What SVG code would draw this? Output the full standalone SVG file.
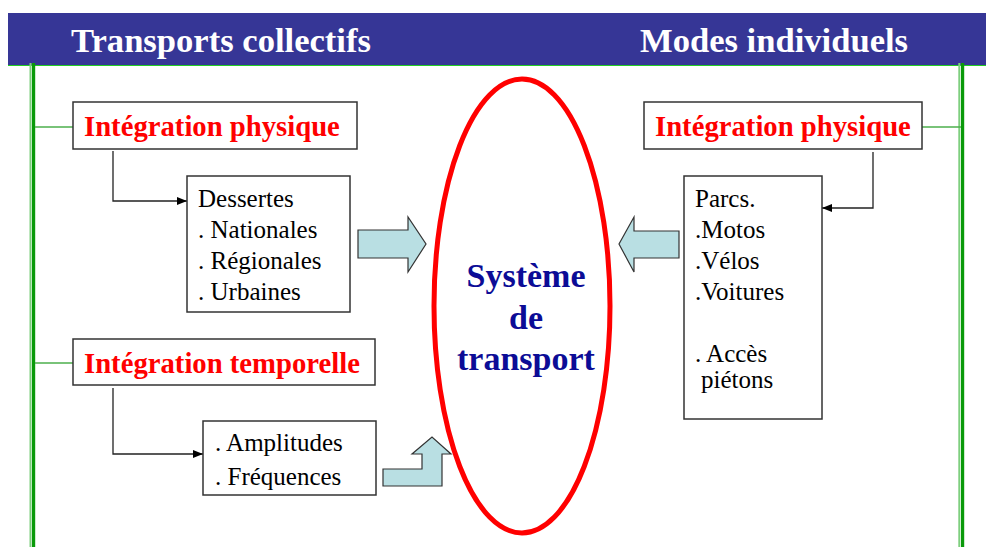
<svg xmlns="http://www.w3.org/2000/svg" width="986" height="547" viewBox="0 0 986 547">
<defs>
<style>
.hdr{font-family:"Liberation Serif","Times New Roman",serif;font-weight:bold;font-size:34.6px;fill:#ffffff}
.red{font-family:"Liberation Serif","Times New Roman",serif;font-weight:bold;font-size:28.7px;fill:#ff0000}
.txt{font-family:"Liberation Serif","Times New Roman",serif;font-size:25px;fill:#000000}
.ctr{font-family:"Liberation Serif","Times New Roman",serif;font-weight:bold;font-size:34px;fill:#0c0c96;text-anchor:middle}
.box{fill:#ffffff;stroke:#333333;stroke-width:1.5}
.blue{fill:#b9dfe3;stroke:#333333;stroke-width:1.2}
.gline{stroke:#4caf4c;stroke-width:1.5;fill:none}
.conn{stroke:#222222;stroke-width:1.3;fill:none}
</style>
<marker id="ah" viewBox="0 0 10 10" refX="10" refY="5" markerWidth="10" markerHeight="10" markerUnits="userSpaceOnUse" orient="auto">
<path d="M0,1 L10,5 L0,9 Z" fill="#000"/>
</marker>
</defs>
<rect width="986" height="547" fill="#ffffff"/>
<g id="banner">
<rect x="8" y="13" width="978" height="52" fill="#363696"/>
<line x1="8" y1="65.5" x2="986" y2="65.5" stroke="#22cc22" stroke-width="1.2"/>
<text class="hdr" x="71" y="52">Transports collectifs</text>
<text class="hdr" x="640" y="52">Modes individuels</text>
</g>
<g id="bars">
<rect x="29.5" y="63" width="2" height="484" fill="#7fcf7f"/>
<rect x="32" y="63" width="3.2" height="484" fill="#0a9a0a"/>
<rect x="958.3" y="63" width="2" height="484" fill="#7fcf7f"/>
<rect x="961" y="63" width="3.2" height="484" fill="#0a9a0a"/>
</g>
<g id="connectors">
<line class="gline" x1="35" y1="127" x2="73" y2="127"/>
<line class="gline" x1="35" y1="363" x2="73" y2="363"/>
<line class="gline" x1="922" y1="127" x2="961" y2="127"/>
<path class="conn" d="M113,151 V201 H187" marker-end="url(#ah)"/>
<path class="conn" d="M113,388 V454 H203" marker-end="url(#ah)"/>
<path class="conn" d="M873,152 V208 H822" stroke="#555555" marker-end="url(#ah)"/>
</g>
<g id="phys-left">
<rect class="box" x="73" y="102" width="284" height="47"/>
<text class="red" x="84" y="136">Intégration physique</text>
</g>
<g id="temp-left">
<rect class="box" x="73" y="339" width="302" height="46"/>
<text class="red" x="84" y="373">Intégration temporelle</text>
</g>
<g id="dessertes">
<rect class="box" x="187" y="176" width="163" height="136"/>
<text class="txt" x="198" y="207">Dessertes</text>
<text class="txt" x="198" y="238">. Nationales</text>
<text class="txt" x="198" y="269">. Régionales</text>
<text class="txt" x="198" y="300">. Urbaines</text>
</g>
<g id="amplitudes">
<rect class="box" x="203" y="421" width="173" height="74"/>
<text class="txt" x="215" y="451">. Amplitudes</text>
<text class="txt" x="215" y="485">. Fréquences</text>
</g>
<g id="phys-right">
<rect class="box" x="644" y="102" width="278" height="47"/>
<text class="red" x="655" y="136">Intégration physique</text>
</g>
<g id="parcs">
<rect class="box" x="684" y="176" width="138" height="243"/>
<text class="txt" x="695" y="207">Parcs.</text>
<text class="txt" x="695" y="238">.Motos</text>
<text class="txt" x="695" y="269">.Vélos</text>
<text class="txt" x="695" y="300">.Voitures</text>
<text class="txt" x="695" y="362">. Accès</text>
<text class="txt" x="701" y="388">piétons</text>
</g>
<g id="arrows">
<polygon class="blue" points="358,230 408,230 408,217 426,244 408,272 408,258 358,258"/>
<polygon class="blue" points="679,231 634,231 634,217 619,244 634,272 634,258 679,258"/>
<polygon class="blue" points="383,469 422,469 422,454 412,454 432,437 451,454 442,454 442,486 383,486"/>
</g>
<g id="systeme">
<ellipse cx="522" cy="306" rx="88" ry="227" fill="none" stroke="#ff0000" stroke-width="5"/>
<text class="ctr" x="526" y="287">Système</text>
<text class="ctr" x="526" y="329">de</text>
<text class="ctr" x="526" y="370">transport</text>
</g>
</svg>
